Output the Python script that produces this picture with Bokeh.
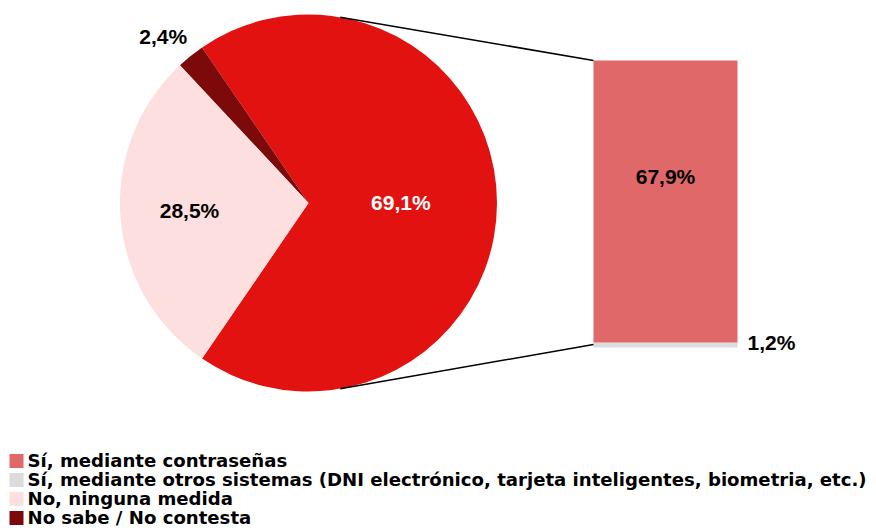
import math
from bokeh.plotting import figure
from bokeh.models import Range1d
from bokeh.core.properties import value
from bokeh.embed import file_html
from bokeh.resources import INLINE

# ---- data ----
pie_labels = ["Sí", "No sabe / No contesta", "No, ninguna medida"]
pie_values = [69.1, 2.4, 28.5]
pie_colors = ["#E1120F", "#7D0A0A", "#FDDFDF"]
pie_text = ["69,1%", "2,4%", "28,5%"]

bar_labels = ["Sí, mediante otros sistemas", "Sí, mediante contraseñas"]
bar_values = [1.2, 67.9]
bar_colors = ["#DCDCDC", "#E06868"]
bar_text = ["1,2%", "67,9%"]

legend_labels = [
    "Sí, mediante contraseñas",
    "Sí, mediante otros sistemas (DNI electrónico, tarjeta inteligentes, biometria, etc.)",
    "No, ninguna medida",
    "No sabe  / No contesta",
]
legend_colors = ["#E06868", "#DCDCDC", "#FDDFDF", "#7D0A0A"]

# ---- layout ----
W, H = 876, 532
FONT = value("Liberation Sans")
LFONT = value("DejaVu Sans")

p = figure(width=W, height=H, output_backend="svg", toolbar_location=None,
           x_range=Range1d(0, W), y_range=Range1d(0, H), min_border=0)
p.axis.visible = False
p.grid.visible = False
p.outline_line_color = None
p.background_fill_color = "white"

# pie
cx, cy, R = 308, 329.5, 188.5
total = sum(pie_values)
start = -pie_values[0] / total * math.pi
starts, ends, mids = [], [], []
a = start
for v in pie_values:
    b = a + v / total * 2 * math.pi
    starts.append(a); ends.append(b); mids.append((a + b) / 2)
    a = b
p.wedge(x=cx, y=cy, radius=R, start_angle=starts, end_angle=ends,
        fill_color=pie_colors, line_color=None, direction="anticlock")

# pie labels
label_r = [0.49, 1.17, 0.633]
label_ang = [mids[0], math.radians(131.2), mids[2]]
label_col = ["white", "black", "black"]
lx = [cx + R * f * math.cos(t) for f, t in zip(label_r, label_ang)]
ly = [cy + R * f * math.sin(t) + 1 for f, t in zip(label_r, label_ang)]
p.text(x=lx, y=ly, text=pie_text, text_color=label_col, text_font=FONT,
       text_font_style="bold", text_font_size="21px", text_align="center",
       text_baseline="middle")

# bar (own scale)
bar_x0, bar_x1 = 593, 737
bar_y0, bar_h = 185, 287
btot = sum(bar_values)
p.extra_y_ranges = {"bar": Range1d(-bar_y0 / bar_h * btot, (H - bar_y0) / bar_h * btot)}
bottoms = [0, bar_values[0]]
tops = [bar_values[0], bar_values[0] + bar_values[1]]
p.vbar(x=(bar_x0 + bar_x1) / 2, width=bar_x1 - bar_x0, bottom=bottoms, top=tops,
       fill_color=bar_colors, line_color=None, y_range_name="bar")
p.text(x=[bar_x1 + 10], y=[bar_values[0] / 2 + 0.6], text=[bar_text[0]],
       text_font=FONT, text_font_style="bold", text_font_size="21px",
       text_align="left", text_baseline="middle", y_range_name="bar")
p.text(x=[(bar_x0 + bar_x1) / 2], y=[bar_values[0] + bar_values[1] * 0.59],
       text=[bar_text[1]], text_font=FONT, text_font_style="bold",
       text_font_size="21px", text_align="center", text_baseline="middle",
       y_range_name="bar")

# connector lines
ang = math.radians(80.3)
px_top = (cx + R * math.cos(ang), cy + R * math.sin(ang))
px_bot = (cx + R * math.cos(-ang), cy + R * math.sin(-ang))
bar_top_y = bar_y0 + bar_h
p.segment(x0=[px_top[0], px_bot[0]], y0=[px_top[1], px_bot[1]],
          x1=[bar_x0, bar_x0], y1=[bar_top_y, bar_y0 + 3],
          line_color="black", line_width=1.5)

# legend
rows_y = [H - 460.5 - 19 * i for i in range(len(legend_labels))]
p.rect(x=[16] * 4, y=rows_y, width=14, height=14, fill_color=legend_colors,
       line_color=None)
p.text(x=[27] * 4, y=[y + 1 for y in rows_y], text=legend_labels, text_font=LFONT,
       text_font_style="bold", text_font_size="18.1px", text_align="left",
       text_baseline="middle", text_color="black")

open("out.html", "w").write(file_html(p, INLINE))
